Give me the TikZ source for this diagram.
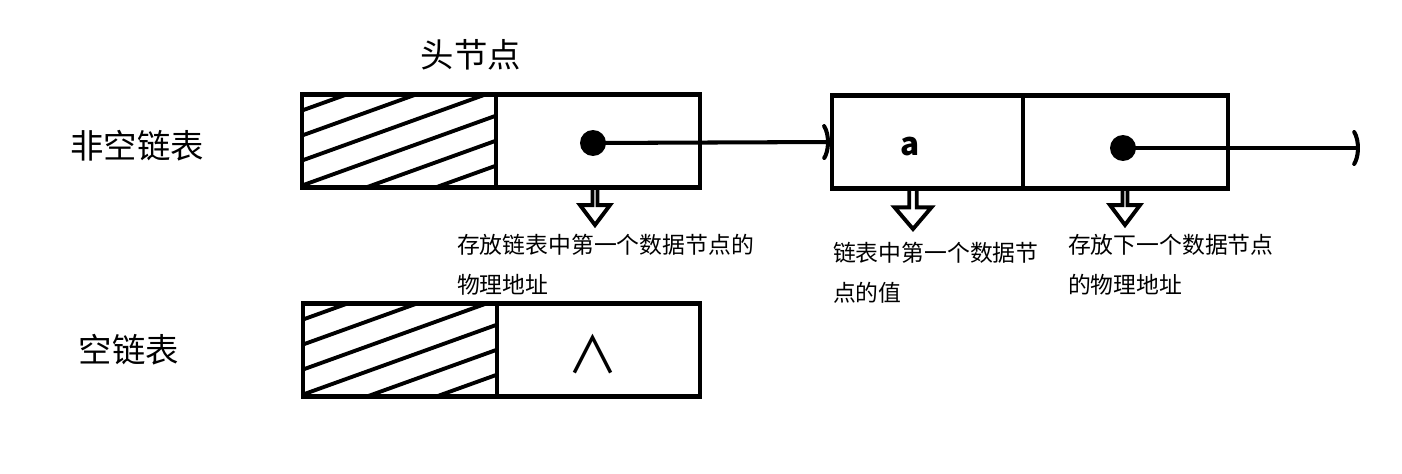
\documentclass[tikz,border=0pt]{standalone}
\usepackage{fontspec}
\setmainfont{Noto Sans CJK SC}
\usetikzlibrary{
  arrows.meta,
  positioning,
  calc,
  shapes.arrows
}

\begin{document}
\begin{tikzpicture}[
  x=0.02cm, y=-0.02cm,
  every node/.style={inner sep=0pt, outer sep=0pt},
  cell/.style={rectangle, draw, line width=2.5pt, minimum height=1.86cm},
  hatch/.style={line width=2.2pt},
  ptrdot/.style={circle, fill, minimum size=0.52cm},
  link/.style={line width=2.3pt,
               -{Arc Barb[arc=110, length=0.22cm, width=0.86cm, round]}},
  hollow/.style={single arrow, draw, line width=2.2pt, rotate=-90, anchor=tail,
                 minimum height=0.74cm, minimum width=0.6cm,
                 single arrow head extend=0.19cm, single arrow tip angle=74},
  title/.style={font=\fontsize{19pt}{22pt}\selectfont},
  note/.style={font=\fontsize{13pt}{0.8cm}\selectfont, align=left, anchor=north west},
]
\useasboundingbox (0,0) rectangle (1402,473);

% -- Row titles ---------------------------------
\node[title] (full)    at (137,146) {非空链表};
\node[title] (empty)   at (129,350) {空链表};
\node[title] (headlbl) at (471,55)  {头节点};

% -- Non-empty list: head node ------------------
\node[cell, minimum width=3.88cm] (headdata) at (399,141) {};
\node[cell, minimum width=4.08cm, right=0pt of headdata] (headnext) {};

% -- First data node ----------------------------
\node[cell, minimum width=3.82cm] (n1data) at (927.5,142) {};
\node[cell, minimum width=4.1cm, right=0pt of n1data] (n1next) {};
\node[font=\fontsize{18pt}{20pt}\selectfont\bfseries] (aval) at (910,147) {a};

% -- Empty list: head node only -----------------
\node[cell, minimum width=3.88cm] (emptydata) at (400,350) {};
\node[cell, minimum width=4.06cm, right=0pt of emptydata] (emptynext) {};
\node[font=\fontsize{29pt}{30pt}\selectfont] (nil) at (593,354) {∧};

% -- Hatching of the head data fields -----------
\foreach \cellname in {headdata, emptydata}{
  \begin{scope}
    \clip (\cellname.south west) rectangle (\cellname.north east);
    \foreach \o in {16,41,...,141}
      \draw[hatch] ($(\cellname.north west)+(0,\o)$) -- ++(200,-72);
  \end{scope}
}

% -- Pointers -----------------------------------
\node[ptrdot] (ptr1) at (593,143)  {};
\node[ptrdot] (ptr2) at (1123,148) {};
\coordinate (tail) at (1360,148);
\draw[link, shorten >=0.04cm] (ptr1.center) -- (n1data.west);
\draw[link] (ptr2.center) -- (tail);

% -- Hollow arrows down to the notes ------------
\node[hollow] (h1) at (595,188) {};
\node[hollow, minimum height=0.82cm, minimum width=0.74cm,
      single arrow head extend=0.15cm, single arrow tip angle=81] (h2) at (913,188) {};
\node[hollow] (h3) at (1125,188) {};

% -- Notes --------------------------------------
\node[note] (note1) at (457,234)  {存放链表中第一个数据节点的\\物理地址};
\node[note] (note2) at (833,242)  {链表中第一个数据节\\点的值};
\node[note] (note3) at (1068,234) {存放下一个数据节点\\的物理地址};

\end{tikzpicture}
\end{document}
